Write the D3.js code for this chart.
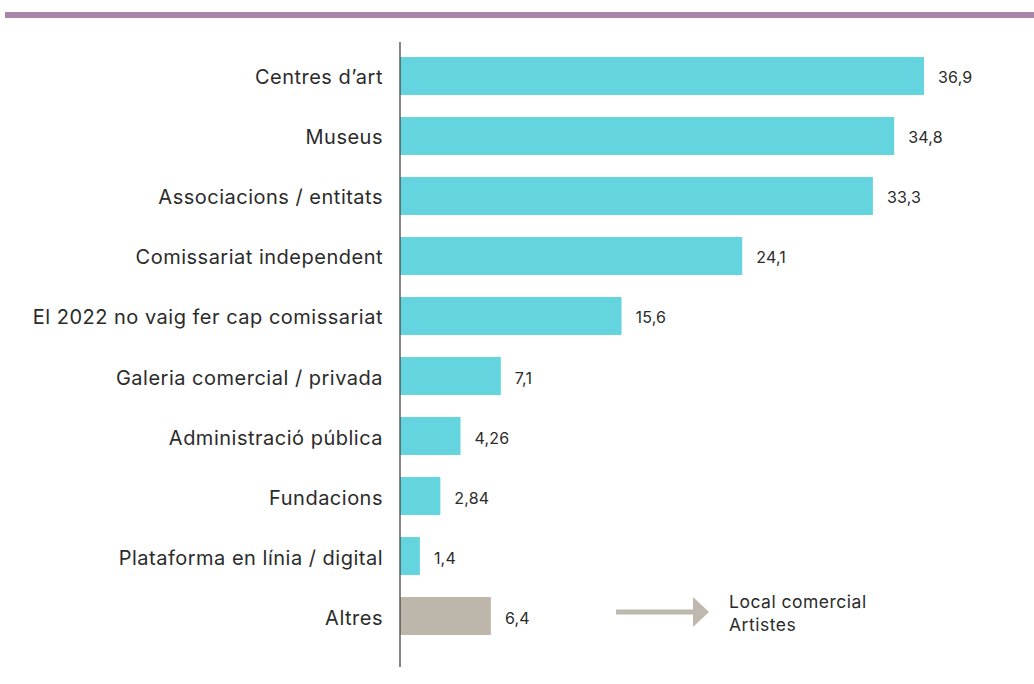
<!DOCTYPE html>
<html><head><meta charset="utf-8">
<script src="https://cdn.jsdelivr.net/npm/d3@7"></script>
<style>body{margin:0;background:#fff}svg{display:block}text{font-family:Inter,"Noto Sans",sans-serif}</style>
</head><body>
<svg id="c" width="1034" height="684"></svg>
<script>
const categories = ["Centres d’art","Museus","Associacions / entitats","Comissariat independent","El 2022 no vaig fer cap comissariat","Galeria comercial / privada","Administració pública","Fundacions","Plataforma en línia / digital","Altres"];
const values = [36.9,34.8,33.3,24.1,15.6,7.1,4.26,2.84,1.4,6.4];
const valueLabels = ["36,9","34,8","33,3","24,1","15,6","7,1","4,26","2,84","1,4","6,4"];
const noteLines = ["Local comercial","Artistes"];

const svg = d3.select("#c");
svg.append("rect").attr("x",5).attr("y",12).attr("width",1029).attr("height",6).attr("fill","#a887aa");

const x = d3.scaleLinear().domain([0,36.9]).range([400,924]);
const y = d3.scaleBand().domain(categories).range([46,646]).paddingInner(0.3667).paddingOuter(0.1833);

svg.selectAll("rect.bar").data(categories).join("rect").attr("class","bar")
  .attr("x",x(0)).attr("y",d=>y(d)).attr("height",y.bandwidth())
  .attr("width",(d,i)=>x(values[i])-x(0))
  .attr("fill",(d,i)=>d==="Altres"?"#bdb6ab":"#64d4de");

svg.selectAll("text.val").data(categories).join("text").attr("class","val")
  .attr("x",(d,i)=>x(values[i])+14).attr("y",d=>y(d)+y.bandwidth()/2+7.5)
  .attr("font-size",16).attr("letter-spacing",0.2).attr("fill","#2b2b2b").text((d,i)=>valueLabels[i]);

svg.selectAll("text.cat").data(categories).join("text").attr("class","cat")
  .attr("x",383).attr("y",d=>y(d)+y.bandwidth()/2+8.5)
  .attr("text-anchor","end").attr("font-size",20).attr("letter-spacing",0.5).attr("fill","#2b2b2b").text(d=>d);

svg.append("line").attr("x1",400).attr("x2",400).attr("y1",42).attr("y2",667).attr("stroke","#444").attr("stroke-width",1.3);

const ay = 612;
svg.append("line").attr("x1",616).attr("x2",694).attr("y1",ay).attr("y2",ay).attr("stroke","#bfb8ae").attr("stroke-width",5);
svg.append("path").attr("d",`M693,${ay-15}L709,${ay}L693,${ay+15}Z`).attr("fill","#bfb8ae");
svg.selectAll("text.note").data(noteLines).join("text").attr("class","note")
  .attr("x",729).attr("y",(d,i)=>608+i*23).attr("font-size",17.5).attr("letter-spacing",0.5).attr("fill","#2b2b2b").text(d=>d);
</script>
</body></html>
